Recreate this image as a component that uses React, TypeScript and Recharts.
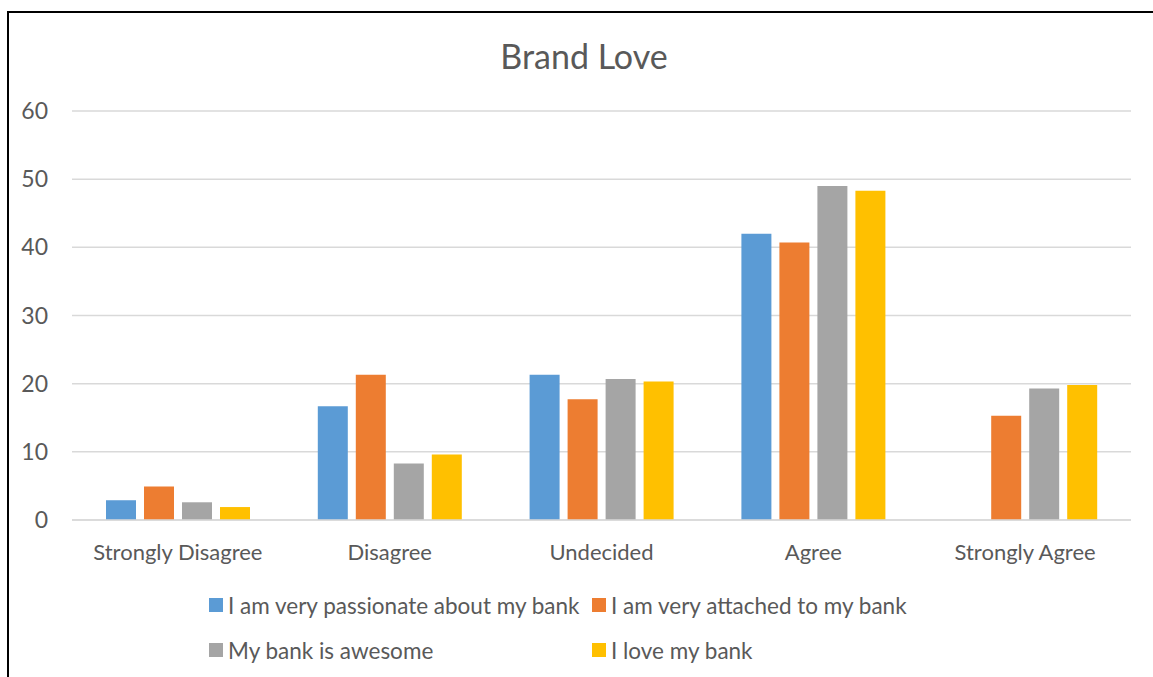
import React from "react";
import { BarChart, Bar, XAxis, YAxis, CartesianGrid, Legend } from "recharts";

const categories = ["Strongly Disagree", "Disagree", "Undecided", "Agree", "Strongly Agree"];
const passionate = [2.9, 16.7, 21.3, 42.0, 0];
const attached = [4.9, 21.3, 17.7, 40.7, 15.3];
const awesome = [2.6, 8.3, 20.7, 49.0, 19.3];
const loveBank = [1.9, 9.6, 20.3, 48.3, 19.8];
const yTicks = [0, 10, 20, 30, 40, 50, 60];

const series = [
  { key: "passionate", name: "I am very passionate about my bank", color: "#5B9BD5" },
  { key: "attached", name: "I am very attached to my bank", color: "#ED7D31" },
  { key: "awesome", name: "My bank is awesome", color: "#A5A5A5" },
  { key: "love", name: "I love my bank", color: "#FFC000" },
];

const data = categories.map((category, i) => ({
  category,
  passionate: passionate[i],
  attached: attached[i],
  awesome: awesome[i],
  love: loveBank[i],
}));

const FONT = "Lato, 'Open Sans', sans-serif";
const TEXT = "#595959";

// legend keeps the series order, two per row like the original
function LegendGrid() {
  return (
    <div
      style={{
        display: "grid",
        gridTemplateColumns: "383px 383px",
        rowGap: 17,
        fontFamily: FONT,
        fontSize: 22.5,
        color: TEXT,
        whiteSpace: "nowrap",
      }}
    >
      {series.map((s) => (
        <div key={s.key} style={{ display: "flex", alignItems: "center", height: 28 }}>
          <span
            style={{
              display: "inline-block",
              flexShrink: 0,
              width: 14,
              height: 14,
              background: s.color,
              marginRight: 5,
            }}
          />
          <span>{s.name}</span>
        </div>
      ))}
    </div>
  );
}

export default function App() {
  return (
    <div
      style={{
        position: "absolute",
        left: 0,
        top: 0,
        width: 1153,
        height: 677,
        overflow: "hidden",
        background: "#fff",
      }}
    >
      <div
        style={{
          position: "absolute",
          left: 7,
          top: 11,
          width: 1200,
          height: 700,
          borderLeft: "2px solid #000",
          borderTop: "2px solid #000",
        }}
      />
      <div
        style={{
          position: "absolute",
          left: 384,
          width: 400,
          top: 34,
          textAlign: "center",
          fontFamily: FONT,
          fontSize: 34,
          color: TEXT,
          lineHeight: "44px",
        }}
      >
        Brand Love
      </div>
      <div style={{ position: "absolute", left: 0, top: 0 }}>
        <BarChart
          width={1153}
          height={677}
          data={data}
          margin={{ top: 111, right: 22, bottom: 117, left: 12 }}
          barSize={30}
          barGap={8}
        >
          <CartesianGrid vertical={false} stroke="#D9D9D9" strokeWidth={1.5} />
          <XAxis
            dataKey="category"
            axisLine={{ stroke: "#D9D9D9", strokeWidth: 1.5 }}
            tickLine={false}
            tickSize={0}
            tickMargin={24}
            height={40}
            tick={{ fill: TEXT, fontSize: 22, fontFamily: FONT }}
          />
          <YAxis
            domain={[0, 60]}
            ticks={yTicks}
            axisLine={false}
            tickLine={false}
            tickSize={0}
            tickMargin={24}
            width={60}
            tick={{ fill: TEXT, fontSize: 23, fontFamily: FONT }}
          />
          <Legend
            layout="horizontal"
            verticalAlign="middle"
            align="center"
            content={<LegendGrid />}
            wrapperStyle={{ top: 591, left: 209, width: 800, height: 80 }}
          />
          {series.map((s) => (
            <Bar
              key={s.key}
              dataKey={s.key}
              name={s.name}
              fill={s.color}
              isAnimationActive={false}
            />
          ))}
        </BarChart>
      </div>
    </div>
  );
}
